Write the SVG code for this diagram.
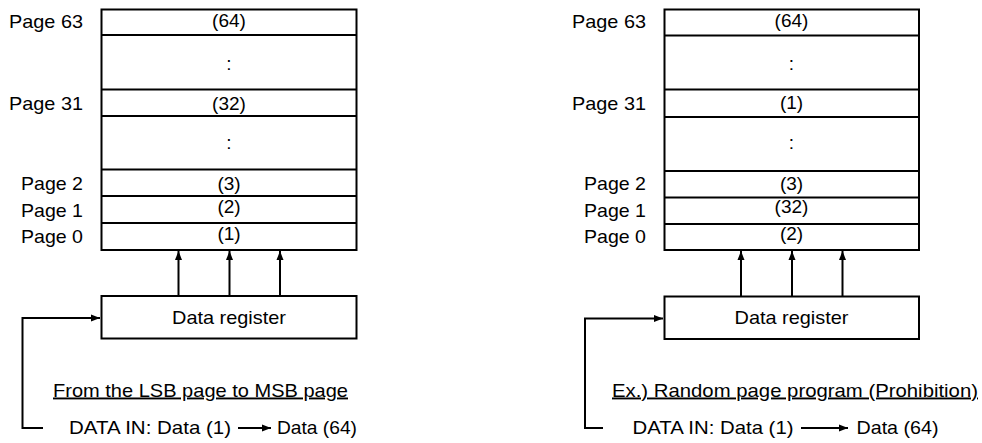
<svg xmlns="http://www.w3.org/2000/svg" width="982" height="443" viewBox="0 0 982 443">
<defs>
<style>
text{font-family:"Liberation Sans",Arial,sans-serif;font-size:19px;fill:#000}
.c{text-anchor:middle}
.e{text-anchor:end}
.box{fill:#fff;stroke:#000;stroke-width:2}
.row{stroke:#000;stroke-width:2}
.ln{fill:none;stroke:#000;stroke-width:2}
</style>
<marker id="ah" markerUnits="userSpaceOnUse" markerWidth="10" markerHeight="8" refX="9" refY="4" orient="auto">
<path d="M0,0.5 L9,4 L0,7.5 Z" fill="#000"/>
</marker>
</defs>
<rect width="982" height="443" fill="#fff"/>

<!-- LEFT -->
<g id="left-pages">
<rect class="box" x="101.5" y="9.5" width="255" height="240.5"/>
<line class="row" x1="101.5" y1="35" x2="356.5" y2="35"/>
<line class="row" x1="101.5" y1="89.5" x2="356.5" y2="89.5"/>
<line class="row" x1="101.5" y1="116" x2="356.5" y2="116"/>
<line class="row" x1="101.5" y1="169.5" x2="356.5" y2="169.5"/>
<line class="row" x1="101.5" y1="196" x2="356.5" y2="196"/>
<line class="row" x1="101.5" y1="223" x2="356.5" y2="223"/>
<text class="e" x="83" y="27.5" textLength="74" lengthAdjust="spacingAndGlyphs">Page 63</text>
<text class="e" x="83" y="110" textLength="74" lengthAdjust="spacingAndGlyphs">Page 31</text>
<text class="e" x="83" y="190" textLength="62" lengthAdjust="spacingAndGlyphs">Page 2</text>
<text class="e" x="83" y="216.5" textLength="62" lengthAdjust="spacingAndGlyphs">Page 1</text>
<text class="e" x="83" y="243" textLength="62" lengthAdjust="spacingAndGlyphs">Page 0</text>
<text class="c" x="229" y="27">(64)</text>
<text class="c" x="229" y="70">:</text>
<text class="c" x="229" y="110">(32)</text>
<text class="c" x="229" y="149">:</text>
<text class="c" x="229" y="189.5">(3)</text>
<text class="c" x="229" y="213">(2)</text>
<text class="c" x="229" y="240">(1)</text>
</g>
<g id="left-register">
<rect class="box" x="101.5" y="296" width="255" height="42.5"/>
<text class="c" x="229" y="323.5" textLength="114" lengthAdjust="spacingAndGlyphs">Data register</text>
</g>
<g id="left-notes">
<text x="53" y="396.5" textLength="295" lengthAdjust="spacingAndGlyphs" text-decoration="underline">From the LSB page to MSB page</text>
<text x="69" y="434" textLength="162" lengthAdjust="spacingAndGlyphs">DATA IN: Data (1)</text>
<text x="277" y="434" textLength="80" lengthAdjust="spacingAndGlyphs">Data (64)</text>
</g>

<!-- RIGHT -->
<g id="right-pages">
<rect class="box" x="664.5" y="9.5" width="254.5" height="240.5"/>
<line class="row" x1="664.5" y1="35.5" x2="919" y2="35.5"/>
<line class="row" x1="664.5" y1="89.5" x2="919" y2="89.5"/>
<line class="row" x1="664.5" y1="117" x2="919" y2="117"/>
<line class="row" x1="664.5" y1="171" x2="919" y2="171"/>
<line class="row" x1="664.5" y1="197.5" x2="919" y2="197.5"/>
<line class="row" x1="664.5" y1="224" x2="919" y2="224"/>
<text class="e" x="646" y="27.5" textLength="74" lengthAdjust="spacingAndGlyphs">Page 63</text>
<text class="e" x="646" y="110" textLength="74" lengthAdjust="spacingAndGlyphs">Page 31</text>
<text class="e" x="646" y="190" textLength="62" lengthAdjust="spacingAndGlyphs">Page 2</text>
<text class="e" x="646" y="216.5" textLength="62" lengthAdjust="spacingAndGlyphs">Page 1</text>
<text class="e" x="646" y="243" textLength="62" lengthAdjust="spacingAndGlyphs">Page 0</text>
<text class="c" x="791.5" y="27">(64)</text>
<text class="c" x="791.5" y="70">:</text>
<text class="c" x="791.5" y="108.5">(1)</text>
<text class="c" x="791.5" y="149">:</text>
<text class="c" x="791.5" y="189.5">(3)</text>
<text class="c" x="791.5" y="213">(32)</text>
<text class="c" x="791.5" y="240">(2)</text>
</g>
<g id="right-register">
<rect class="box" x="664.5" y="296.5" width="254.5" height="42.5"/>
<text class="c" x="791.5" y="324" textLength="114" lengthAdjust="spacingAndGlyphs">Data register</text>
</g>
<g id="right-notes">
<text x="612" y="396.5" textLength="366" lengthAdjust="spacingAndGlyphs" text-decoration="underline">Ex.) Random page program (Prohibition)</text>
<text x="632.5" y="434" textLength="161" lengthAdjust="spacingAndGlyphs">DATA IN: Data (1)</text>
<text x="856.5" y="434" textLength="82" lengthAdjust="spacingAndGlyphs">Data (64)</text>
</g>

<g id="connectors">
<line class="ln" x1="178.5" y1="296" x2="178.5" y2="251" marker-end="url(#ah)"/>
<line class="ln" x1="229.5" y1="296" x2="229.5" y2="251" marker-end="url(#ah)"/>
<line class="ln" x1="280" y1="296" x2="280" y2="251" marker-end="url(#ah)"/>
<polyline class="ln" points="43,428 22.5,428 22.5,318 100,318" marker-end="url(#ah)"/>
<line class="ln" x1="238" y1="428" x2="271" y2="428" marker-end="url(#ah)"/>

<line class="ln" x1="741" y1="296.5" x2="741" y2="251" marker-end="url(#ah)"/>
<line class="ln" x1="792" y1="296.5" x2="792" y2="251" marker-end="url(#ah)"/>
<line class="ln" x1="842.5" y1="296.5" x2="842.5" y2="251" marker-end="url(#ah)"/>
<polyline class="ln" points="603,428 585,428 585,318.5 663,318.5" marker-end="url(#ah)"/>
<line class="ln" x1="801" y1="428" x2="848" y2="428" marker-end="url(#ah)"/>
</g>
</svg>
